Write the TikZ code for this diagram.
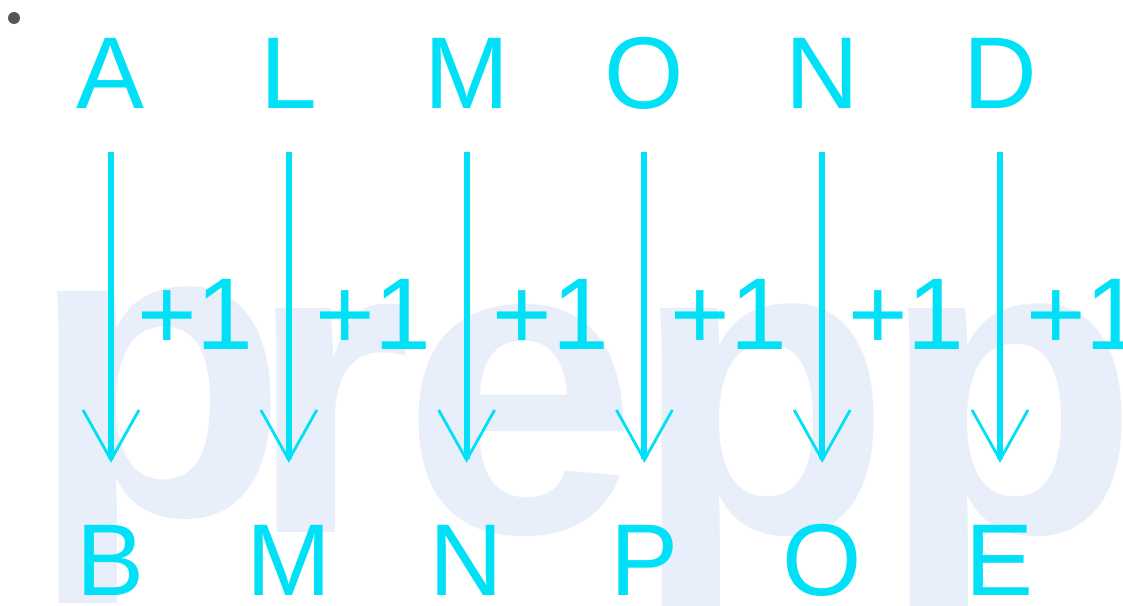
\documentclass[tikz,border=0pt]{standalone}
\usepackage{fontspec}
\setmainfont{Liberation Sans}
\usetikzlibrary{positioning,arrows.meta}
\definecolor{LetterCyan}{RGB}{0,224,246}
\definecolor{MarkBlue}{RGB}{232,239,250}
\definecolor{DotGrey}{RGB}{85,85,85}
\tikzset{
  letter/.style={text=LetterCyan,inner sep=0pt,anchor=base,text height=73pt,text depth=0pt,
    font=\fontsize{102}{102}\selectfont},
  shiftarrow/.style={draw=LetterCyan,line width=6pt,
    -{Straight Barb[length=50pt,width=56pt,line width=2.8pt]},shorten <=44pt,shorten >=59pt},
  incr/.style={text=LetterCyan,inner sep=0pt,anchor=base west,font=\fontsize{102}{102}\selectfont},
  wmark/.style={text=MarkBlue,inner sep=0pt,anchor=base west,font=\fontsize{424}{424}\selectfont\bfseries}
}

\begin{document}
\begin{tikzpicture}[x=1pt,y=-1pt]
  \useasboundingbox (0,0) rectangle (1123,605);
  \clip (0,0) rectangle (1123,605);
  \fill[white] (0,0) rectangle (1123,605);

  % watermark behind the letters
  \node[wmark] (w1) at (29,515) {p};
  \node[wmark] (w2) at (247,532) {r};
  \node[wmark] (w3) at (402,532) {e};
  \node[wmark] (w4) at (632,532) {p};
  \node[wmark] (w5) at (880,532) {p};

  \node[circle,fill=DotGrey,minimum size=12pt,inner sep=0pt] (dot) at (14,18) {};

  \foreach \src/\dst [count=\i from 0] in {A/B,L/M,M/N,O/P,N/O,D/E}{
    \node[letter] (t\i) at (111+177.8*\i,108) {\src};
    \node[letter] (b\i) at (111+177.8*\i,595) {\dst};
    \draw[shiftarrow] (t\i.south) -- (b\i.north);
    \node[incr] (p\i) at (137+177.8*\i,349) {+1};
  }
\end{tikzpicture}
\end{document}
